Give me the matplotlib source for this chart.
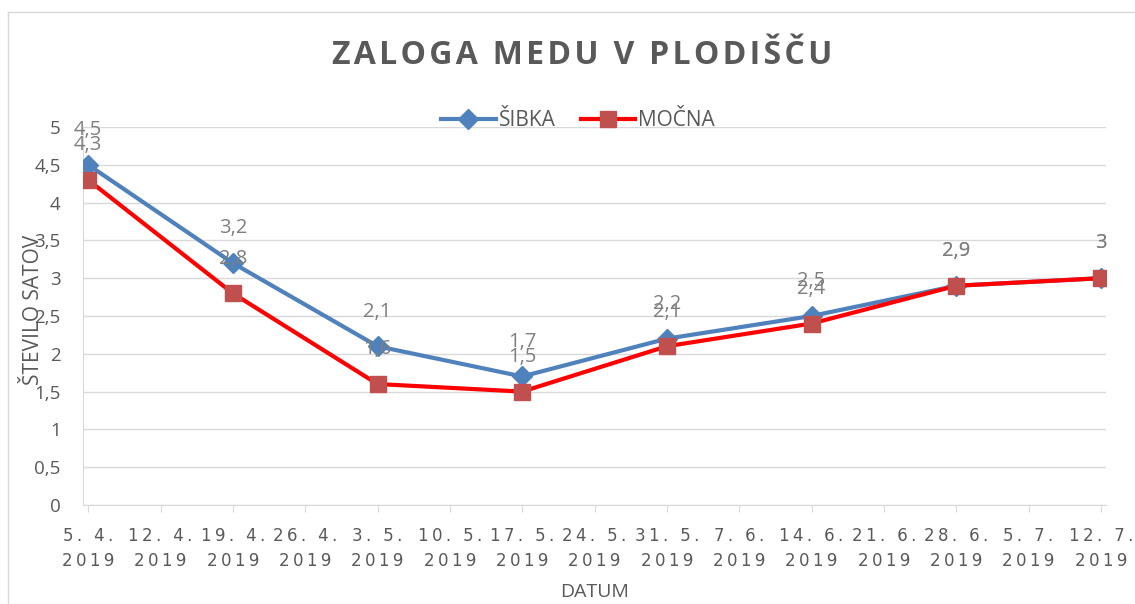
import pandas as pd
import numpy as np
import matplotlib
matplotlib.use('Agg')
import matplotlib.pyplot as plt
from matplotlib.lines import Line2D

plt.rcParams['font.family'] = ['Open Sans', 'DejaVu Sans']

# data
dates = ['2019-04-05', '2019-04-19', '2019-05-03', '2019-05-17',
         '2019-05-31', '2019-06-14', '2019-06-28', '2019-07-12']
sibka = [4.5, 3.2, 2.1, 1.7, 2.2, 2.5, 2.9, 3.0]
mocna = [4.3, 2.8, 1.6, 1.5, 2.1, 2.4, 2.9, 3.0]
y_ticks = [0, 0.5, 1, 1.5, 2, 2.5, 3, 3.5, 4, 4.5, 5]

x = pd.to_datetime(dates)
tick_dates = pd.date_range(dates[0], dates[-1], freq='7D')

grey = '#595959'
blue = '#4F81BD'
red = '#FF0000'
red_marker = '#C0504D'

def fmt(v):
    return ('%g' % v).replace('.', ',')

def spaced(s, sep='\u2009'):
    return '\n'.join(sep.join(part) for part in s.split('\n'))

fig = plt.figure(figsize=(11.35, 6.04), dpi=100)
W, H = 1135, 604
ax = fig.add_axes([83 / W, 1 - 505 / H, (1106 - 83) / W, (505 - 127) / H])

ax.plot(x, sibka, color=blue, lw=3, marker='D', ms=10, mfc=blue, mec=blue,
        label='ŠIBKA', zorder=3)
ax.plot(x, mocna, color=red, lw=3, marker='s', ms=12, mfc=red_marker,
        mec=red_marker, label='MOČNA', zorder=3)

for xi, v in zip(x, sibka):
    ax.annotate(fmt(v), (xi, v), xytext=(0, 25), textcoords='offset points',
                ha='center', va='center', fontsize=14.5, color='#7F7F7F')
for xi, v in zip(x, mocna):
    ax.annotate(fmt(v), (xi, v), xytext=(0, 25), textcoords='offset points',
                ha='center', va='center', fontsize=14.5, color='#7F7F7F')

ax.set_ylim(0, 5)
ax.set_xlim(x[0] - pd.Timedelta(hours=12), x[-1] + pd.Timedelta(hours=12))
ax.set_yticks(y_ticks)
ax.set_yticklabels([fmt(v) for v in y_ticks], fontsize=13.5, color=grey)
ax.yaxis.grid(True, color='#D9D9D9', lw=1)
ax.set_axisbelow(True)

ax.set_xticks(tick_dates)
ax.set_xticklabels([spaced(f'{d.day}. {d.month}.\n{d.year}') for d in tick_dates],
                   fontsize=12, color=grey, linespacing=1.45,
                   family=['DejaVu Sans'])
ax.tick_params(axis='x', length=5, color='#D9D9D9', pad=11)
ax.tick_params(axis='y', length=0, pad=16)

for s in ['top', 'right']:
    ax.spines[s].set_visible(False)
ax.spines['bottom'].set_color('#D9D9D9')
ax.spines['left'].set_color('#D9D9D9')

leg = ax.legend(loc='center', bbox_to_anchor=(578 / W, 1 - 121 / H),
                bbox_transform=fig.transFigure, ncol=2, frameon=False,
                fontsize=15, handlelength=2.6, handletextpad=0.15,
                columnspacing=1.2, labelcolor=grey)

fig.text(582 / W, 1 - 55 / H, spaced('ZALOGA MEDU V PLODIŠČU', '\u200a'),
         ha='center', va='center', fontsize=23, fontweight='bold',
         color=grey)
fig.text(34 / W, 1 - 310 / H, 'ŠTEVILO SATOV', rotation=90, ha='center',
         va='center', fontsize=15, color=grey)
fig.text(595 / W, 1 - 592 / H, 'DATUM', ha='center', va='center',
         fontsize=14, color=grey)

# chart border
fig.add_artist(Line2D([8 / W, 8 / W], [0, 1 - 12 / H], color='#D9D9D9',
                      lw=1, transform=fig.transFigure))
fig.add_artist(Line2D([8 / W, 1], [1 - 12 / H, 1 - 12 / H], color='#D9D9D9',
                      lw=1, transform=fig.transFigure))

fig.savefig('out.png', dpi=100)
